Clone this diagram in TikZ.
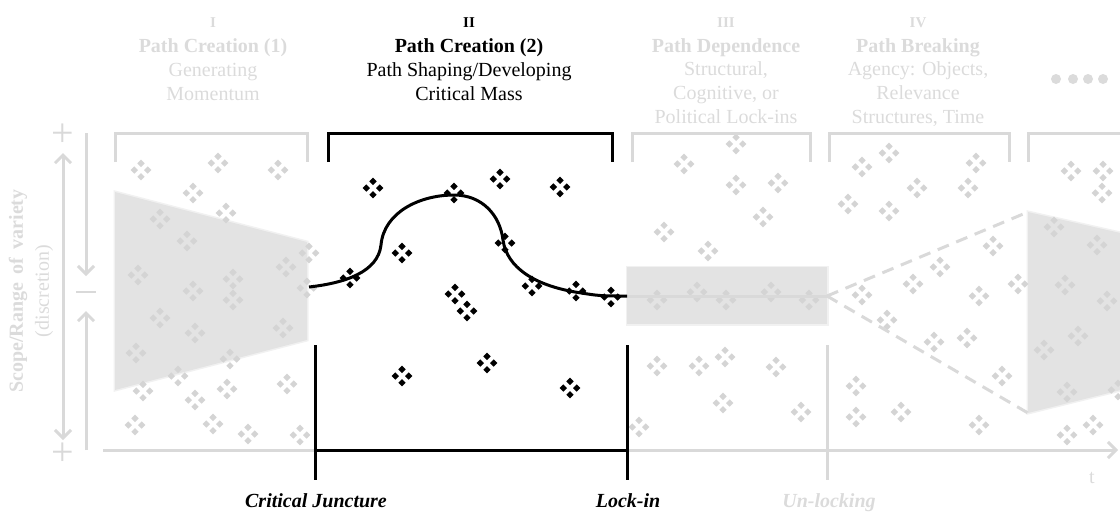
\documentclass[tikz,border=0pt]{standalone}
\usepackage{fontspec}
\setmainfont{Liberation Serif}
\usetikzlibrary{arrows.meta}
\definecolor{lg}{HTML}{D9D9D9}
\definecolor{tg}{HTML}{DBDBDB}
\definecolor{cg}{HTML}{D4D4D4}
\definecolor{fg}{HTML}{E3E3E3}
\tikzset{
 glines/.style={draw=lg,line width=3pt},
 blines/.style={draw=black,line width=3pt},
 numtxt/.style={font=\bfseries\fontsize{15}{18}\selectfont,anchor=base,inner sep=0pt},
 ttltxt/.style={font=\bfseries\fontsize{20}{24}\selectfont,anchor=base,inner sep=0pt},
 subtxt/.style={font=\fontsize{20}{24}\selectfont,anchor=base,inner sep=0pt},
 evttxt/.style={font=\bfseries\itshape\fontsize{20}{24}\selectfont,anchor=base,inner sep=0pt},
 plustxt/.style={font=\fontsize{40}{42}\selectfont,text=lg,inner sep=0pt},
 softedge/.style={draw=fg,line width=3pt,draw opacity=0.5},
 barb/.style={-{Straight Barb[length=8pt,width=16pt,line width=3pt]}},
 pics/clu/.style={code={
   \foreach \dx/\dy in {0/-6.7,-6.7/0,6.7/0,0/6.7}{
     \fill[#1] (\dx-3.7,\dy)--(\dx,\dy-3.7)--(\dx+3.7,\dy)--(\dx,\dy+3.7)--cycle;}
 }}
}
\begin{document}
\begin{tikzpicture}[x=1pt,y=-1pt]
\useasboundingbox (0,0) rectangle (1120,512);
% gray fills
\fill[fg] (115,192)--(307,242)--(307,340)--(115,390)--cycle;
\draw[softedge] (115,192)--(307,242)--(307,340)--(115,390)--cycle;
\fill[fg] (627,267) rectangle (827,324);
\draw[softedge] (627,267) rectangle (827,324);
\fill[fg] (1028,212)--(1125,234)--(1125,389)--(1028,413)--cycle;
\draw[softedge] (1028,212)--(1125,234)--(1125,389)--(1028,413)--cycle;
% gray clusters
\foreach \x/\y in {141/170,218/163,278/170,193/193,160/219,226/213,187/241,309/253,286/267,138/275,193/291,233/279,233/300,307/288,160/318,195/333,283/328,136/353,230/359,178/376,143/391,195/400,227/389,287/384,135/425,213/424,248/434,300/435,
736/144,684/164,736/185,778/183,763/217,664/232,708/251,657/300,697/292,726/300,771/292,809/300,657/366,699/366,725/357,776/367,723/403,801/412,639/427,
862/167,889/153,976/163,968/188,917/188,848/204,889/211,993/246,940/267,913/284,1018/284,862/295,979/296,887/320,934/342,967/338,1002/376,856/386,856/417,901/412,979/425,
1071/171,1103/171,1102/193,1054/227,1097/245,1065/285,1107/301,1078/336,1044/350,1067/392,1118/390,1067/435,1093/425}
  \pic at (\x,\y) {clu=cg};
% headers
\node[numtxt,text=tg] (h1a) at (213,27) {I};
\node[ttltxt,text=tg] (h1b) at (213,52) {Path Creation (1)};
\node[subtxt,text=tg] (h1c) at (213,76) {Generating};
\node[subtxt,text=tg] (h1d) at (213,100) {Momentum};
\node[numtxt] (h2a) at (469,27) {II};
\node[ttltxt] (h2b) at (469,52) {Path Creation (2)};
\node[subtxt] (h2c) at (469,76) {Path Shaping/Developing};
\node[subtxt] (h2d) at (469,100) {Critical Mass};
\node[numtxt,text=tg] (h3a) at (726,27) {III};
\node[ttltxt,text=tg] (h3b) at (726,52) {Path Dependence};
\node[subtxt,text=tg] (h3c) at (726,75) {Structural,};
\node[subtxt,text=tg] (h3d) at (726,99) {Cognitive, or};
\node[subtxt,text=tg] (h3e) at (726,123) {Political Lock-ins};
\node[numtxt,text=tg] (h4a) at (918,27) {IV};
\node[ttltxt,text=tg] (h4b) at (918,52) {Path Breaking};
\node[subtxt,text=tg] (h4c) at (918,75) {Agency: Objects,};
\node[subtxt,text=tg] (h4d) at (918,99) {Relevance};
\node[subtxt,text=tg] (h4e) at (918,123) {Structures, Time};
\foreach \x in {1056,1073,1088,1103} \fill[tg] (\x,79) circle (5pt);
% brackets
\draw[glines] (115,162)--(115,133)--(307,133)--(307,162);
\draw[blines] (328,162)--(328,133)--(612,133)--(612,162);
\draw[glines] (632,162)--(632,133)--(810,133)--(810,162);
\draw[glines] (829,162)--(829,133)--(1009,133)--(1009,162);
\draw[glines] (1028,162)--(1028,133)--(1125,133);
% left axis
\node[plustxt] (ptop) at (63,135) {+};
\node[plustxt] (pbot) at (63,454) {+};
\draw[glines,{Straight Barb[length=8pt,width=16pt,line width=3pt]}-{Straight Barb[length=8pt,width=16pt,line width=3pt]}] (63,153)--(63,440);
\draw[glines,barb] (86,133)--(86,276);
\draw[glines,barb] (86,450)--(86,311);
\draw[draw=lg,line width=2.5pt] (76,292)--(96,292);
\node[rotate=90,font=\bfseries\fontsize{20}{24}\selectfont,text=tg,inner sep=0pt] (scope) at (18,291) {Scope/Range\, of\, variety};
\node[rotate=90,font=\fontsize{20}{24}\selectfont,text=tg,inner sep=0pt] (disc) at (44,291) {(discretion)};
% time axis
\draw[glines] (103,450)--(315,450);
\draw[glines,barb] (627,450)--(1118,450);
\draw[blines] (315,450)--(627,450);
\draw[glines] (827,345)--(827,480);
\draw[blines] (315,345)--(315,480);
\draw[blines] (627,345)--(627,480);
\node[subtxt,text=tg] (tlab) at (1092,483) {t};
\node[evttxt] (cj) at (316,507) {Critical Juncture};
\node[evttxt] (li) at (628,507) {Lock-in};
\node[evttxt,text=tg] (ul) at (829,507) {Un-locking};
% path lines
\draw[draw=lg,line width=3pt] (627,296)--(827,296);
\draw[draw=lg,line width=3pt,dash pattern=on 12pt off 8pt] (827,296)--(1028,212);
\draw[draw=lg,line width=3pt,dash pattern=on 12pt off 8pt] (827,296)--(1028,413);
% black clusters
\foreach \x/\y in {373/188,454/193,500/179,560/187,402/253,505/243,350/278,455/294,467/311,532/286,576/291,611/297,402/376,487/363,570/388}
  \pic at (\x,\y) {clu=black};
\draw[black,line width=3pt] (309,287) .. controls (345,283) and (378,272) .. (381,245)
  .. controls (384,212) and (420,195) .. (454,195)
  .. controls (482,195) and (500,215) .. (503,240)
  .. controls (507,268) and (535,285) .. (575,292)
  .. controls (600,296) .. (627,296);
\end{tikzpicture}
\end{document}
